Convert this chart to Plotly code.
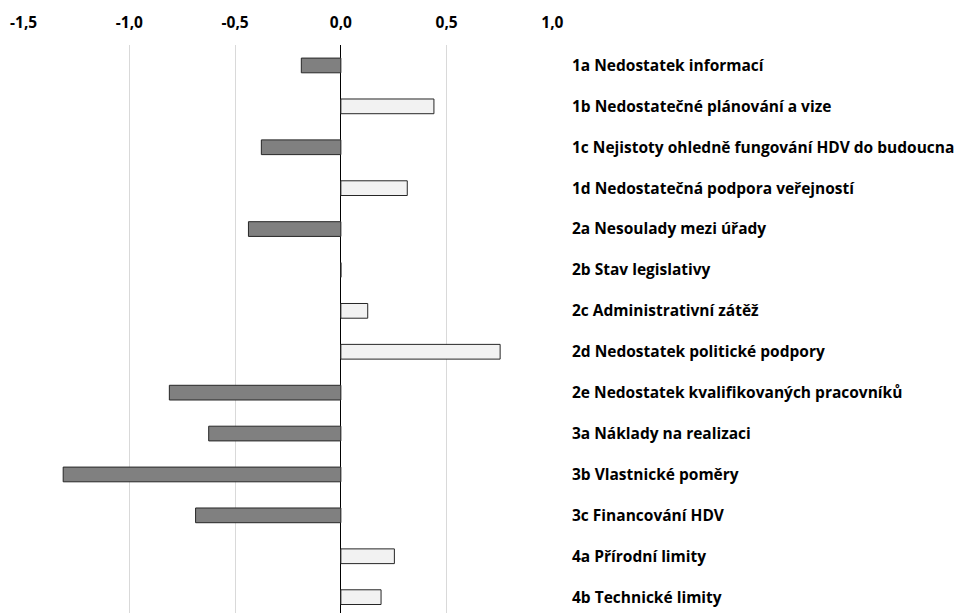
import plotly.graph_objects as go

# Barriers and their mean scores
categories = [
    "1a Nedostatek informací",
    "1b Nedostatečné plánování a vize",
    "1c Nejistoty ohledně fungování HDV do budoucna",
    "1d Nedostatečná podpora veřejností",
    "2a Nesoulady mezi úřady",
    "2b Stav legislativy",
    "2c Administrativní zátěž",
    "2d Nedostatek politické podpory",
    "2e Nedostatek kvalifikovaných pracovníků",
    "3a Náklady na realizaci",
    "3b Vlastnické poměry",
    "3c Financování HDV",
    "4a Přírodní limity",
    "4b Technické limity",
]
values = [-0.187, 0.44, -0.376, 0.314, -0.437, 0.0, 0.127, 0.753,
          -0.811, -0.625, -1.313, -0.687, 0.253, 0.19]

tick_values = [-1.5, -1.0, -0.5, 0.0, 0.5, 1.0]
tick_labels = ["-1,5", "-1,0", "-0,5", "0,0", "0,5", "1,0"]

NEG_FILL = "#808080"
POS_FILL = "#f2f2f2"
OUTLINE = "#262626"

fill_colors = [NEG_FILL if v < 0 else POS_FILL for v in values]

fig = go.Figure(
    go.Bar(
        x=values,
        y=categories,
        orientation="h",
        marker=dict(color=fill_colors, line=dict(color=OUTLINE, width=1)),
        hoverinfo="x+y",
    )
)

label_font = dict(family="'Open Sans', Lato, sans-serif", size=15.5, color="#000000")

fig.update_layout(
    width=958,
    height=613,
    margin=dict(l=23, r=405, t=45, b=0, pad=0),
    paper_bgcolor="white",
    plot_bgcolor="white",
    bargap=0.64,
    showlegend=False,
    font=label_font,
    xaxis=dict(
        side="top",
        range=[-1.503, 1.003],
        tickvals=tick_values,
        ticktext=tick_labels,
        tickfont=dict(label_font, weight="bold"),
        showgrid=True,
        gridcolor="#d9d9d9",
        gridwidth=1,
        zeroline=True,
        zerolinecolor="#000000",
        zerolinewidth=1.3,
        showline=False,
        ticks="",
        ticklabelstandoff=13,
        fixedrange=True,
    ),
    yaxis=dict(
        side="right",
        type="category",
        categoryorder="array",
        categoryarray=categories,
        range=[-0.5 + 568 / 40.9, -0.5],
        tickfont=dict(label_font, weight="bold"),
        showgrid=False,
        zeroline=False,
        showline=False,
        ticks="",
        ticklabelstandoff=18,
        fixedrange=True,
    ),
)

fig.write_html("out.html")
